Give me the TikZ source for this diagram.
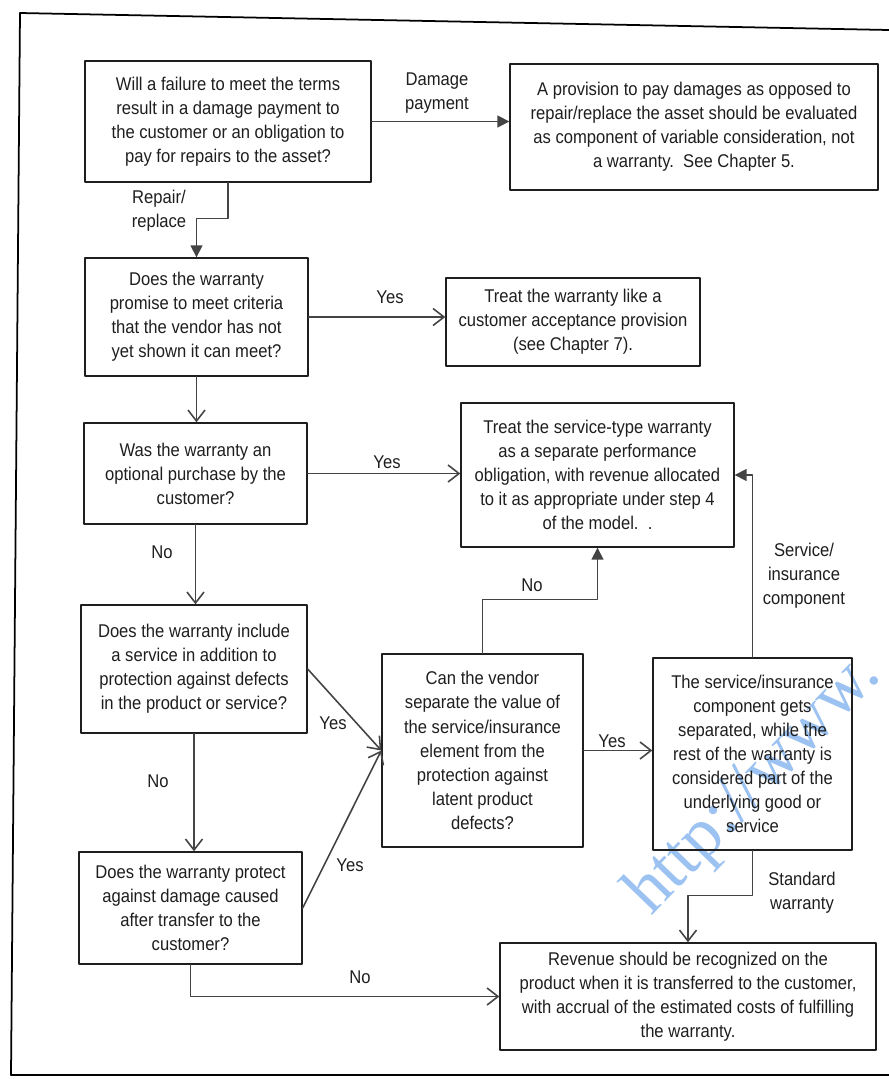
\documentclass[tikz,border=0pt]{standalone}
\usepackage{fontspec}
\setmainfont{Liberation Sans}[FakeStretch=0.9]
\newfontfamily\markfont{Liberation Serif}
\usetikzlibrary{arrows.meta}
\definecolor{ink}{HTML}{1E1E1E}
\definecolor{wire}{HTML}{444444}
\definecolor{markblue}{HTML}{9CC2F2}

\begin{document}
\begin{tikzpicture}[x=0.02cm,y=-0.02cm,line cap=round,line join=round,
  every node/.style={inner sep=1pt,font=\fontsize{10.5}{13.7}\selectfont,text=ink},
  box/.style={draw=ink,line width=0.8pt,align=center,inner sep=2pt},
  lbl/.style={align=center},
  flow/.style={draw=wire,line width=0.9pt,-{Straight Barb[length=2.2mm,width=3.4mm,line width=0.9pt]}},
  flowf/.style={draw=wire,line width=0.9pt,-{Triangle[length=2.4mm,width=2.4mm,fill=wire]}}]
  \useasboundingbox (0,0) rectangle (889,1079);
  \draw[line width=1pt,black] (889,30) -- (20,13) -- (11,1075) -- (889,1075);
  % watermark
  \node[font=\markfont\fontsize{40}{40}\selectfont,text=markblue,rotate=46,anchor=base west] (mark) at (650,918) {http://www.};
  % boxes
  \node[box,minimum width=5.72cm,minimum height=2.42cm] (fail) at (228,121.5) {Will a failure to meet the terms\\result in a damage payment to\\the customer or an obligation to\\pay for repairs to the asset?};
  \node[box,minimum width=7.36cm,minimum height=2.52cm] (damages) at (694,127) {A provision to pay damages as opposed to\\repair/replace the asset should be evaluated\\as component of variable consideration, not\\a warranty.\ \ See Chapter 5.};
  \node[box,minimum width=4.46cm,minimum height=2.36cm] (criteria) at (196.5,317) {Does the warranty\\promise to meet criteria\\that the vendor has not\\yet shown it can meet?};
  \node[box,minimum width=5.08cm,minimum height=1.76cm] (accept) at (573,322) {Treat the warranty like a\\customer acceptance provision\\(see Chapter 7).};
  \node[box,minimum width=4.46cm,minimum height=2.02cm] (optional) at (195.5,473.5) {Was the warranty an\\optional purchase by the\\customer?};
  \node[box,minimum width=5.46cm,minimum height=2.88cm] (separate) at (597.5,475) {Treat the service-type warranty\\as a separate performance\\obligation, with revenue allocated\\to it as appropriate under step 4\\of the model.\ \ .};
  \node[box,minimum width=4.52cm,minimum height=2.56cm] (service) at (194,669) {Does the warranty include\\a service in addition to\\protection against defects\\in the product or service?};
  \node[box,minimum width=4.02cm,minimum height=3.86cm] (vendor) at (482.5,750.5) {Can the vendor\\separate the value of\\the service/insurance\\element from the\\protection against\\latent product\\defects?};
  \node[box,minimum width=3.98cm,minimum height=3.84cm] (split) at (752.5,754) {The service/insurance\\component gets\\separated, while the\\rest of the warranty is\\considered part of the\\underlying good or\\service};
  \node[box,minimum width=4.46cm,minimum height=2.24cm] (damage) at (190.5,908) {Does the warranty protect\\against damage caused\\after transfer to the\\customer?};
  \node[box,minimum width=7.52cm,minimum height=2.14cm] (revenue) at (688,996.5) {Revenue should be recognized on the\\product when it is transferred to the customer,\\with accrual of the estimated costs of fulfilling\\the warranty.};
  % connectors
  \draw[flowf] (fail.east) -- (fail.east -| damages.west);
  \node[lbl] (lpay) at (437,93) {Damage\\payment};
  \draw[flowf] (fail.south) -- ++(0,36) -| (criteria.north);
  \node[lbl] (lrep) at (159,211) {Repair/\\replace};
  \draw[flow] (criteria.east) -- (criteria.east -| accept.west);
  \node (lyes1) at (390,297) {Yes};
  \draw[flow] (criteria.south) -- (criteria.south |- optional.north);
  \draw[flow] (optional.east) -- (optional.east -| separate.west);
  \node (lyes2) at (387,462) {Yes};
  \draw[flow] (optional.south) -- (optional.south |- service.north);
  \node (lno1) at (162,552) {No};
  \draw[flow] (service.south) -- (service.south |- damage.north);
  \node (lno2) at (158,781) {No};
  \draw[flow] (service.east) -- (vendor.west);
  \node (lyes3) at (333,723) {Yes};
  \draw[flow] (damage.east) -- (vendor.west);
  \node (lyes4) at (350,865) {Yes};
  \draw[flow] (damage.south) |- (revenue.west);
  \node (lno3) at (360,977) {No};
  \draw[flowf] (vendor.north) -- ++(0,-54) -| (separate.south);
  \node (lno4) at (532,585) {No};
  \draw[flow] (vendor.east) -- (vendor.east -| split.west);
  \node (lyes5) at (612,741) {Yes};
  \draw[flowf] (split.north) |- (separate.east);
  \node[lbl] (lserv) at (804,576) {Service/\\insurance\\component};
  \draw[flow] (split.south) -- ++(0,45) -| (revenue.north);
  \node[lbl] (lstd) at (802,893) {Standard\\warranty};
\end{tikzpicture}
\end{document}
